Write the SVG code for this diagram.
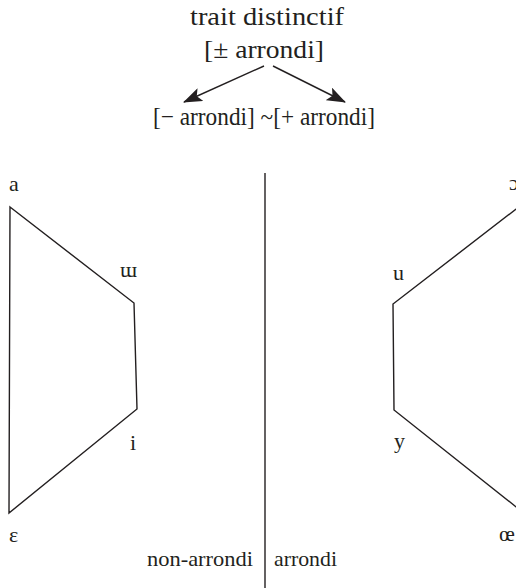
<svg xmlns="http://www.w3.org/2000/svg" width="516" height="588" viewBox="0 0 516 588">
<style>
text{font-family:"Liberation Serif","Times New Roman",serif;fill:#231f20}
.t{font-size:25px}
.l{font-size:22px}
.s{font-size:21px}
.ln{fill:none;stroke:#231f20;stroke-width:1.4;stroke-linejoin:miter}
</style>
<defs>
<marker id="ah" markerWidth="19" markerHeight="14" refX="18" refY="7" orient="auto" markerUnits="userSpaceOnUse">
<path d="M0,0 L19,7 L0,14 L4,7 Z" fill="#231f20"/>
</marker>
</defs>
<rect width="516" height="588" fill="#fff"/>
<g id="feature">
<text class="t" x="190" y="25" textLength="154" lengthAdjust="spacingAndGlyphs">trait distinctif</text>
<text class="t" x="204" y="58" textLength="120" lengthAdjust="spacingAndGlyphs">[± arrondi]</text>
</g>
<g id="values">
<text class="t" x="153" y="125" textLength="222" lengthAdjust="spacingAndGlyphs">[− arrondi] ~[+ arrondi]</text>
</g>
<g id="connectors">
<line class="ln" x1="264" y1="66" x2="184" y2="102" marker-end="url(#ah)"/>
<line class="ln" x1="273" y1="66" x2="345" y2="102" marker-end="url(#ah)"/>
</g>
<g id="divider">
<line class="ln" x1="265" y1="173" x2="265" y2="588"/>
</g>
<g id="unrounded">
<polygon class="ln" points="10,207 134,303 137,409 9,513"/>
<text class="l" x="9" y="191">a</text>
<text class="l" x="120" y="277">ɯ</text>
<text class="l" x="130" y="450">i</text>
<text class="l" x="9" y="542">ε</text>
<text class="s" x="147" y="566" textLength="106" lengthAdjust="spacingAndGlyphs">non-arrondi</text>
</g>
<g id="rounded">
<polyline class="ln" points="520,206 393,304 394,410 520,510"/>
<text class="l" x="393" y="280">u</text>
<text class="l" x="394" y="448">y</text>
<text class="l" x="499" y="541">œ</text>
<text class="l" x="509" y="190">ɔ</text>
<text class="s" x="274" y="566" textLength="63" lengthAdjust="spacingAndGlyphs">arrondi</text>
</g>
</svg>
